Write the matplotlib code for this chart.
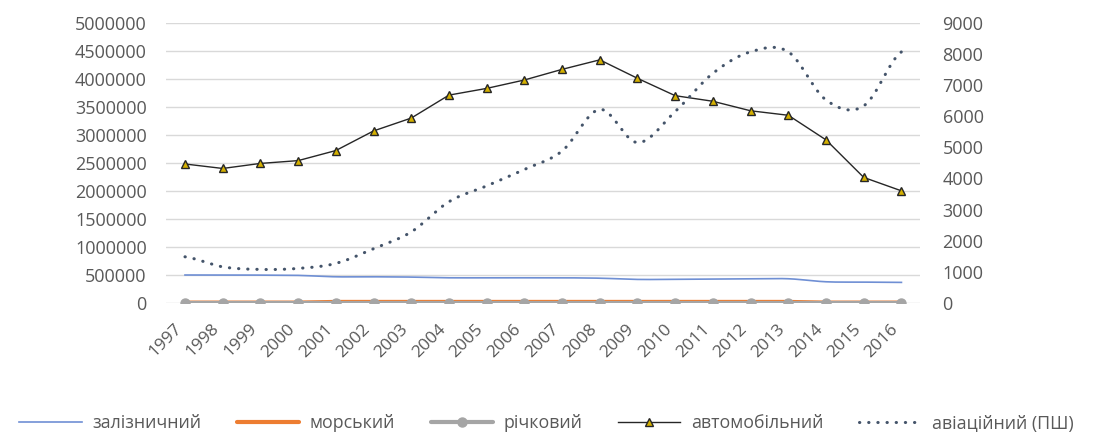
import numpy as np
import matplotlib
matplotlib.use("Agg")
import matplotlib.pyplot as plt
from matplotlib.ticker import FuncFormatter

plt.rcParams['font.family'] = ['Open Sans', 'DejaVu Sans']

years = [str(y) for y in range(1997, 2017)]

# passengers, thousands (left axis)
rail = [497000, 497000, 495000, 490000, 465000, 465000, 460000, 447000, 447000, 447000,
        447000, 440000, 418000, 420000, 425000, 428000, 430000, 376000, 370000, 365000]
sea = [4000, 4000, 4000, 4000, 16000, 16000, 16000, 16000, 16000, 16000,
       16000, 16000, 16000, 16000, 16000, 16000, 16000, 4000, 4000, 4000]
river = [0] * 20
road = [2480000, 2400000, 2490000, 2540000, 2720000, 3070000, 3300000, 3710000, 3830000, 3980000,
        4170000, 4340000, 4010000, 3700000, 3600000, 3430000, 3350000, 2910000, 2240000, 2000000]
# air passengers (right axis)
air = [1480, 1157, 1074, 1106, 1267, 1740, 2280, 3250, 3760, 4290,
       4880, 6220, 5150, 6150, 7380, 8070, 8070, 6520, 6330, 8070]

labels = ["залізничний", "морський", "річковий", "автомобільний", "авіаційний (ПШ)"]

TXT = "#595959"


def smooth(y, n=12):
    # Catmull-Rom style curve through the points, like Excel's smoothed line
    y = np.asarray(y, float)
    x = np.arange(len(y), dtype=float)
    px, py = [], []
    for i in range(len(y) - 1):
        p0 = y[max(i - 1, 0)]
        p1, p2 = y[i], y[i + 1]
        p3 = y[min(i + 2, len(y) - 1)]
        c1 = p1 + (p2 - p0) / 6
        c2 = p2 - (p3 - p1) / 6
        t = np.linspace(0, 1, n, endpoint=False)
        b = (1 - t) ** 3 * p1 + 3 * (1 - t) ** 2 * t * c1 + 3 * (1 - t) * t ** 2 * c2 + t ** 3 * p2
        px.extend(x[i] + t)
        py.extend(b)
    px.append(x[-1])
    py.append(y[-1])
    return np.array(px), np.array(py)


fig = plt.figure(figsize=(10.93, 4.32), dpi=100)
ax = fig.add_axes([0.152, 0.299, 0.690, 0.648])
ax2 = ax.twinx()

x = np.arange(len(years))

h1, = ax.plot(*smooth(rail), color="#6f8fd4", lw=1.2, label=labels[0])
h2, = ax.plot(x, sea, color="#ed7d31", lw=3.0, solid_capstyle="round", label=labels[1])
h3, = ax.plot(x, river, color="#a5a5a5", lw=3.0, marker="o", ms=6.5,
              solid_capstyle="round", label=labels[2])
h4, = ax.plot(x, road, color="#262626", lw=1.0, marker="^", ms=6,
              mfc="#d4b000", mec="#262626", mew=1.0, label=labels[3])
h5, = ax2.plot(*smooth(air), color="#44546a", lw=2.2, linestyle=(0, (0.1, 2.9)),
               dash_capstyle="round", label=labels[4])

ax.set_xlim(-0.5, len(years) - 0.5)
ax.set_ylim(0, 5000000)
ax2.set_ylim(0, 9000)
ax.set_yticks(np.arange(0, 5000001, 500000))
ax2.set_yticks(np.arange(0, 9001, 1000))
ax.yaxis.set_major_formatter(FuncFormatter(lambda v, p: f"{v:.0f}"))
ax2.yaxis.set_major_formatter(FuncFormatter(lambda v, p: f"{v:.0f}"))
ax.yaxis.grid(True, color="#d9d9d9", lw=1)
ax.set_axisbelow(True)

ax.set_xticks(x)
ax.set_xticklabels(years, rotation=45, ha="right")
ax.tick_params(axis="x", length=0, pad=13, labelsize=12.5, labelcolor=TXT)
ax.tick_params(axis="y", length=0, pad=14, labelsize=13, labelcolor=TXT)
ax2.tick_params(axis="y", length=0, pad=16, labelsize=13, labelcolor=TXT)

for a in (ax, ax2):
    for s in a.spines.values():
        s.set_visible(False)

leg = fig.legend(handles=[h1, h2, h3, h4, h5], loc="lower center", bbox_to_anchor=(0.5, -0.038),
                 ncol=5, frameon=False, fontsize=12.8, handlelength=3.5, handletextpad=0.6,
                 columnspacing=2.0, numpoints=1)
for t in leg.get_texts():
    t.set_color(TXT)

fig.savefig("out.png", dpi=100)
